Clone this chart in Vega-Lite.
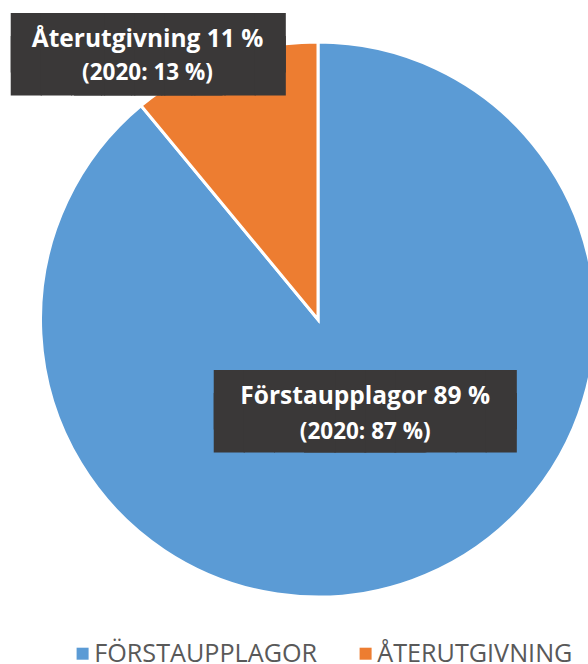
{
  "$schema": "https://vega.github.io/schema/vega-lite/v6.json",
  "width": 636,
  "height": 639,
  "autosize": {"type": "none"},
  "padding": {"left": 0, "top": 0, "right": 0, "bottom": 25},
  "background": "#ffffff",
  "config": {"view": {"stroke": null}},
  "data": {"values": [
    {"cat": "Förstaupplagor", "value": 89, "label": "Förstaupplagor 89 %", "sub": "(2020: 87 %)"},
    {"cat": "Återutgivning", "value": 11, "label": "Återutgivning 11 %", "sub": "(2020: 13 %)"}
  ]},
  "encoding": {
    "theta": {"field": "value", "type": "quantitative", "stack": true},
    "order": {"field": "value", "type": "quantitative", "sort": "descending"}
  },
  "layer": [
    {
      "mark": {"type": "arc", "outerRadius": 277.5, "stroke": "#ffffff", "strokeWidth": 3},
      "encoding": {
        "color": {
          "field": "cat", "type": "nominal",
          "scale": {"domain": ["Förstaupplagor", "Återutgivning"], "range": ["#5B9BD5", "#ED7D31"]},
          "legend": {
            "orient": "none", "legendX": 70, "legendY": 641, "direction": "horizontal",
            "title": null, "symbolType": "square", "symbolSize": 144, "symbolStrokeWidth": 0,
            "labelFont": "Open Sans", "labelFontSize": 25.2, "labelColor": "#595959",
            "labelOffset": -1, "columnPadding": 35, "padding": 0, "labelLimit": 0,
            "labelExpr": "upper(datum.label)"
          }
        }
      }
    },
    {
      "mark": {"type": "text", "radius": 98, "dx": -137.2, "dy": 5.7, "align": "left", "baseline": "alphabetic", "font": "DejaVu Sans Mono", "fontSize": 50, "color": "#3A3838"},
      "encoding": {"detail": {"field": "cat"}, "text": {"condition": {"test": "datum.cat === 'Förstaupplagor'", "value": "███████"}, "value": ""}}
    },
    {
      "mark": {"type": "text", "radius": 98, "dx": 164.8, "dy": 5.7, "align": "right", "baseline": "alphabetic", "font": "DejaVu Sans Mono", "fontSize": 50, "color": "#3A3838"},
      "encoding": {"detail": {"field": "cat"}, "text": {"condition": {"test": "datum.cat === 'Förstaupplagor'", "value": "███████"}, "value": ""}}
    },
    {
      "mark": {"type": "text", "radius": 98, "dx": -137.2, "dy": 28, "align": "left", "baseline": "alphabetic", "font": "DejaVu Sans Mono", "fontSize": 50, "color": "#3A3838"},
      "encoding": {"detail": {"field": "cat"}, "text": {"condition": {"test": "datum.cat === 'Förstaupplagor'", "value": "███████"}, "value": ""}}
    },
    {
      "mark": {"type": "text", "radius": 98, "dx": 164.8, "dy": 28, "align": "right", "baseline": "alphabetic", "font": "DejaVu Sans Mono", "fontSize": 50, "color": "#3A3838"},
      "encoding": {"detail": {"field": "cat"}, "text": {"condition": {"test": "datum.cat === 'Förstaupplagor'", "value": "███████"}, "value": ""}}
    },
    {
      "mark": {"type": "text", "radius": 281.6, "dx": -211.6, "dy": 5.9, "align": "left", "baseline": "alphabetic", "font": "DejaVu Sans Mono", "fontSize": 50, "color": "#3A3838"},
      "encoding": {"detail": {"field": "cat"}, "text": {"condition": {"test": "datum.cat === 'Återutgivning'", "value": "███████"}, "value": ""}}
    },
    {
      "mark": {"type": "text", "radius": 281.6, "dx": 62.4, "dy": 5.9, "align": "right", "baseline": "alphabetic", "font": "DejaVu Sans Mono", "fontSize": 50, "color": "#3A3838"},
      "encoding": {"detail": {"field": "cat"}, "text": {"condition": {"test": "datum.cat === 'Återutgivning'", "value": "███████"}, "value": ""}}
    },
    {
      "mark": {"type": "text", "radius": 281.6, "dx": -211.6, "dy": 28.5, "align": "left", "baseline": "alphabetic", "font": "DejaVu Sans Mono", "fontSize": 50, "color": "#3A3838"},
      "encoding": {"detail": {"field": "cat"}, "text": {"condition": {"test": "datum.cat === 'Återutgivning'", "value": "███████"}, "value": ""}}
    },
    {
      "mark": {"type": "text", "radius": 281.6, "dx": 62.4, "dy": 28.5, "align": "right", "baseline": "alphabetic", "font": "DejaVu Sans Mono", "fontSize": 50, "color": "#3A3838"},
      "encoding": {"detail": {"field": "cat"}, "text": {"condition": {"test": "datum.cat === 'Återutgivning'", "value": "███████"}, "value": ""}}
    },
    {
      "mark": {"type": "text", "radius": 98, "dx": 14, "dy": -7.7, "align": "center", "baseline": "alphabetic", "font": "Open Sans", "fontWeight": "bold", "fontSize": 24.5, "color": "#ffffff"},
      "encoding": {"detail": {"field": "cat"}, "text": {"condition": {"test": "datum.cat === 'Förstaupplagor'", "field": "label"}, "value": ""}}
    },
    {
      "mark": {"type": "text", "radius": 98, "dx": 14, "dy": 26.8, "align": "center", "baseline": "alphabetic", "font": "Open Sans", "fontWeight": "bold", "fontSize": 22.5, "color": "#ffffff"},
      "encoding": {"detail": {"field": "cat"}, "text": {"condition": {"test": "datum.cat === 'Förstaupplagor'", "field": "sub"}, "value": ""}}
    },
    {
      "mark": {"type": "text", "radius": 281.6, "dx": -75.1, "dy": -7.5, "align": "center", "baseline": "alphabetic", "font": "Open Sans", "fontWeight": "bold", "fontSize": 24.5, "color": "#ffffff"},
      "encoding": {"detail": {"field": "cat"}, "text": {"condition": {"test": "datum.cat === 'Återutgivning'", "field": "label"}, "value": ""}}
    },
    {
      "mark": {"type": "text", "radius": 281.6, "dx": -75.1, "dy": 25, "align": "center", "baseline": "alphabetic", "font": "Open Sans", "fontWeight": "bold", "fontSize": 22.5, "color": "#ffffff"},
      "encoding": {"detail": {"field": "cat"}, "text": {"condition": {"test": "datum.cat === 'Återutgivning'", "field": "sub"}, "value": ""}}
    }
  ]
}
